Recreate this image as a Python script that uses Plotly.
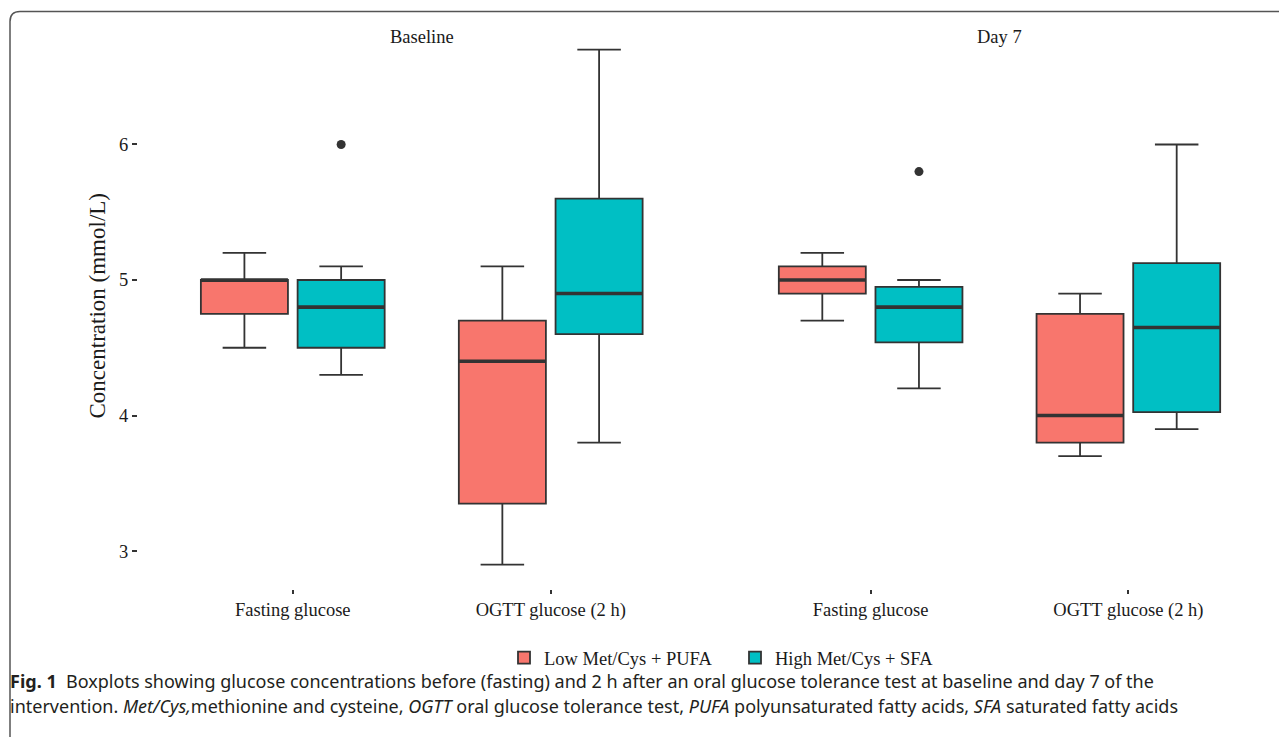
import plotly.graph_objects as go

# ---- data ----
categories = ["Fasting glucose", "OGTT glucose (2 h)"]
panels = ["Baseline", "Day 7"]
groups = ["Low Met/Cys + PUFA", "High Met/Cys + SFA"]

# Baseline
base_low_lower = [4.5, 2.9]
base_low_q1 = [4.75, 3.35]
base_low_median = [5.0, 4.4]
base_low_q3 = [5.0, 4.7]
base_low_upper = [5.2, 5.1]
base_low_outliers = [[], []]

base_high_lower = [4.3, 3.8]
base_high_q1 = [4.5, 4.6]
base_high_median = [4.8, 4.9]
base_high_q3 = [5.0, 5.6]
base_high_upper = [5.1, 6.7]
base_high_outliers = [[6.0], []]

# Day 7
d7_low_lower = [4.7, 3.7]
d7_low_q1 = [4.9, 3.8]
d7_low_median = [5.0, 4.0]
d7_low_q3 = [5.1, 4.75]
d7_low_upper = [5.2, 4.9]
d7_low_outliers = [[], []]

d7_high_lower = [4.2, 3.9]
d7_high_q1 = [4.54, 4.025]
d7_high_median = [4.8, 4.65]
d7_high_q3 = [4.95, 5.125]
d7_high_upper = [5.0, 6.0]
d7_high_outliers = [[5.8], []]

y_ticks = [3, 4, 5, 6]

colors = ["#F8766D", "#00BFC4"]
LINE = "#333333"
SERIF = "Liberation Serif"
SANS = "Noto Sans"

# page offset of the plot div (default body margin)
OFF = 8
# plot area in page pixels
P_L, P_R, P_T, P_B = 138, 1283, 24, 589
W, H = 1287 - OFF, 737 - OFF
ML = P_L - OFF
MR = W - (P_R - OFF)
MT = P_T - OFF
MB = H - (P_B - OFF)
PW = P_R - P_L
PH = P_B - P_T


def px_x(p):
    return (p - P_L) / PW


def px_y(p):
    return (P_B - p) / PH


fig = go.Figure()

panel_data = [
    ("x", "y", "a", [
        (base_low_lower, base_low_q1, base_low_median, base_low_q3, base_low_upper, base_low_outliers),
        (base_high_lower, base_high_q1, base_high_median, base_high_q3, base_high_upper, base_high_outliers),
    ]),
    ("x2", "y2", "b", [
        (d7_low_lower, d7_low_q1, d7_low_median, d7_low_q3, d7_low_upper, d7_low_outliers),
        (d7_high_lower, d7_high_q1, d7_high_median, d7_high_q3, d7_high_upper, d7_high_outliers),
    ]),
]

for pi, (xa, ya, ag, series) in enumerate(panel_data):
    for gi, (lo, q1, med, q3, up, outl) in enumerate(series):
        has_out = any(len(o) > 0 for o in outl)
        kw = dict(y=outl, boxpoints="outliers") if has_out else dict(boxpoints=False)
        fig.add_trace(go.Box(
            x=categories,
            lowerfence=lo, q1=q1, median=med, q3=q3, upperfence=up,
            name=groups[gi], legendgroup=groups[gi], showlegend=(pi == 0),
            offsetgroup=str(gi), alignmentgroup=ag,
            fillcolor=colors[gi], line=dict(color=LINE, width=1.8),
            jitter=0, pointpos=0,
            marker=dict(color=LINE, size=9, line=dict(width=0)),
            xaxis=xa, yaxis=ya, hoverinfo="skip", **kw,
        ))
        # thicker median line (ggplot style)
        fig.add_trace(go.Box(
            x=categories,
            lowerfence=med, q1=med, median=med, q3=med, upperfence=med,
            name=groups[gi], showlegend=False, offsetgroup=str(gi), alignmentgroup=ag,
            fillcolor="rgba(0,0,0,0)", line=dict(color=LINE, width=3.6),
            boxpoints=False, xaxis=xa, yaxis=ya, hoverinfo="skip",
        ))

d1_right = px_x(705.5)
d2_left = px_x(716.0)

xcommon = dict(
    type="category", range=[-0.6, 1.6], showgrid=False, zeroline=False,
    showline=False, ticks="outside", ticklen=4, tickwidth=1.5, tickcolor=LINE,
    tickfont=dict(family=SERIF, size=18.5, color="#1a1a1a"), fixedrange=True,
)
ycommon = dict(
    range=[2.72, 6.889], showgrid=False, zeroline=False, showline=False,
    tickvals=y_ticks, fixedrange=True,
)

fig.update_layout(
    width=W, height=H,
    margin=dict(l=ML, r=MR, t=MT, b=MB),
    paper_bgcolor="white", plot_bgcolor="white",
    boxmode="group", boxgap=0.25, boxgroupgap=0.1,
    xaxis=dict(domain=[0, d1_right], anchor="y", **xcommon),
    xaxis2=dict(domain=[d2_left, 1], anchor="y2", **xcommon),
    yaxis=dict(anchor="x", ticks="outside", ticklen=5, tickwidth=1.5, tickcolor=LINE,
               tickfont=dict(family=SERIF, size=18.5, color="#1a1a1a"), **ycommon),
    yaxis2=dict(anchor="x2", matches="y", showticklabels=False, ticks="", **ycommon),
    legend=dict(
        orientation="h", x=px_x(504), xanchor="left", y=px_y(658), yanchor="middle",
        font=dict(family=SERIF, size=18.5, color="#1a1a1a"),
        entrywidth=186, entrywidthmode="pixels", bgcolor="rgba(0,0,0,0)",
    ),
    showlegend=True,
)

ann = [
    dict(text=panels[0], x=(0 + d1_right) / 2, y=px_y(37)),
    dict(text=panels[1], x=(d2_left + 1) / 2, y=px_y(37)),
]
for a in ann:
    fig.add_annotation(xref="paper", yref="paper", x=a["x"], y=a["y"], text=a["text"],
                       showarrow=False, xanchor="center", yanchor="middle",
                       font=dict(family=SERIF, size=18.5, color="#1a1a1a"))

fig.add_annotation(xref="paper", yref="paper", x=px_x(97), y=0.5,
                   text="Concentration (mmol/L)", textangle=-90, showarrow=False,
                   xanchor="center", yanchor="middle",
                   font=dict(family=SERIF, size=23, color="#1a1a1a"))

cap1 = ("<b>Fig. 1</b>  Boxplots showing glucose concentrations before (fasting) and 2 h after an oral "
        "glucose tolerance test at baseline and day 7 of the")
cap2 = ("intervention. <i>Met/Cys,</i>methionine and cysteine, <i>OGTT</i> oral glucose tolerance test, "
        "<i>PUFA</i> polyunsaturated fatty acids, <i>SFA</i> saturated fatty acids")
for txt, yy in ((cap1, 681), (cap2, 706)):
    fig.add_annotation(xref="paper", yref="paper", x=px_x(8), y=px_y(yy), text=txt,
                       showarrow=False, xanchor="left", yanchor="middle",
                       font=dict(family=SANS, size=18, color="#231f20"))

# rounded frame around the figure (top-left corner visible)
x0 = px_x(10)
yt = px_y(11.5)
rx = 10 / PW
ry = 10 / PH
xr = px_x(1300)
yb = px_y(760)
fig.add_shape(type="path", xref="paper", yref="paper",
              path=f"M {x0},{yb} L {x0},{yt - ry} Q {x0},{yt} {x0 + rx},{yt} L {xr},{yt}",
              line=dict(color="#555555", width=1.5))

fig.write_html("out.html")
